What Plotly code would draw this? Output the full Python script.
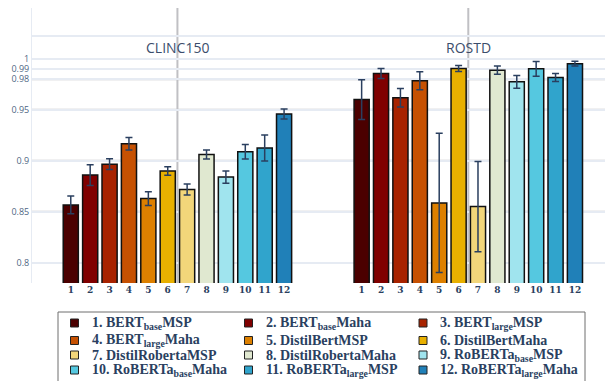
import plotly.graph_objects as go

# Model names (legend entries) and their bar colours
models = [
    "1. BERT<sub>base</sub>MSP", "2. BERT<sub>base</sub>Maha", "3. BERT<sub>large</sub>MSP",
    "4. BERT<sub>large</sub>Maha", "5. DistilBertMSP", "6. DistilBertMaha",
    "7. DistilRobertaMSP", "8. DistilRobertaMaha", "9. RoBERTa<sub>base</sub>MSP",
    "10. RoBERTa<sub>base</sub>Maha", "11. RoBERTa<sub>large</sub>MSP", "12. RoBERTa<sub>large</sub>Maha",
]
colors = [
    "#4b0000", "#800000", "#a82300", "#c65102", "#dd8000", "#e8b000",
    "#f2d67a", "#e0e8d0", "#a0e4ee", "#55c8e0", "#30a4cc", "#2080b8",
]
tick_labels = [str(i) for i in range(1, 13)]

# Scores per dataset (mean and std)
clinc_mean = [0.8567, 0.8860, 0.8967, 0.9167, 0.8629, 0.8900,
              0.8717, 0.9062, 0.8840, 0.9089, 0.9125, 0.9460]
clinc_std = [0.0088, 0.0102, 0.0053, 0.0061, 0.0068, 0.0041,
             0.0054, 0.0044, 0.0060, 0.0071, 0.0128, 0.0049]
rostd_mean = [0.9601, 0.9857, 0.9618, 0.9785, 0.8586, 0.9906,
              0.8550, 0.9890, 0.9775, 0.9903, 0.9818, 0.9953]
rostd_std = [0.0195, 0.0049, 0.0091, 0.0088, 0.0684, 0.0030,
             0.0443, 0.0041, 0.0063, 0.0072, 0.0040, 0.0023]

datasets = ["CLINC150", "ROSTD"]
group_offset = [0, 15]          # x offset of each dataset group
group_center = [6.5, 21.5]
y_ticks = [0.8, 0.85, 0.9, 0.95, 0.98, 0.99, 1.0, 1.0225]
y_tick_text = ["0.8", "0.85", "0.9", "0.95", "0.98", "0.99", "1", ""]
ref_lines_dark = [0.85, 0.9, 0.95, 0.98]
ref_lines_mid = [0.99]

W, H = 605, 381
M_L, M_R, M_T, M_B = 32, 0, 8, 98
PW, PH = W - M_L - M_R, H - M_T - M_B


def px(x):
    """pixel column -> paper x"""
    return (x - M_L) / PW


def py(y):
    """pixel row (from top) -> paper y"""
    return (H - M_B - y) / PH


fig = go.Figure()
for i, name in enumerate(models):
    pos = i + 1
    fig.add_trace(go.Bar(
        x=[pos + group_offset[0], pos + group_offset[1]],
        y=[clinc_mean[i], rostd_mean[i]],
        error_y=dict(type="data", array=[clinc_std[i], rostd_std[i]],
                     color="#2a3f5f", thickness=1.5, width=3.5),
        name=name,
        width=0.78,
        showlegend=False,
        marker=dict(color=colors[i], line=dict(color="#111111", width=1.5)),
    ))

shapes = []
for v in ref_lines_dark:
    shapes.append(dict(type="line", xref="paper", x0=0, x1=1, yref="y", y0=v, y1=v,
                       line=dict(color="#c2c3c8", width=2), layer="below"))
for v in ref_lines_mid:
    shapes.append(dict(type="line", xref="paper", x0=0, x1=1, yref="y", y0=v, y1=v,
                       line=dict(color="#d6d9df", width=2), layer="below"))
for c in group_center:
    shapes.append(dict(type="line", xref="x", x0=c, x1=c, yref="paper", y0=0, y1=1,
                       line=dict(color="#c0c0c4", width=2), layer="below"))

annotations = [
    dict(x=c, y=1.011, xref="x", yref="y", text=t, showarrow=False,
         font=dict(family="Open Sans", size=14, color="#3b4d6b"))
    for c, t in zip(group_center, datasets)
]

# Legend box: three columns, four rows
shapes.append(dict(type="rect", xref="paper", yref="paper",
                   x0=px(58), x1=px(585), y0=py(312), y1=py(400),
                   line=dict(color="#6e6e6e", width=1), fillcolor="white"))
col_x = [70.5, 244.5, 419]
row_y = [323, 340.5, 355, 370]
for i, name in enumerate(models):
    cx, cy = col_x[i % 3], row_y[i // 3]
    shapes.append(dict(type="rect", xref="paper", yref="paper",
                       x0=px(cx), x1=px(cx + 8), y0=py(cy - 4), y1=py(cy + 4),
                       line=dict(color="#222222", width=1), fillcolor=colors[i]))
    annotations.append(dict(
        x=px(cx + 19), y=py(cy), xref="paper", yref="paper", text=name,
        showarrow=False, xanchor="left", yanchor="middle",
        font=dict(family="Liberation Serif", size=14, color="#2a3f5f", weight="bold"),
    ))

tick_pos = [i + 1 + off for off in group_offset for i in range(12)]

fig.update_layout(
    width=W, height=H,
    margin=dict(l=M_L, r=M_R, t=M_T, b=M_B, autoexpand=False),
    paper_bgcolor="white", plot_bgcolor="white",
    showlegend=False,
    barmode="overlay",
    shapes=shapes,
    annotations=annotations,
    xaxis=dict(
        range=[-1.0, 28.55], tickmode="array", tickvals=tick_pos,
        ticktext=tick_labels * 2, showgrid=False, zeroline=False,
        showline=False,
        tickfont=dict(family="DejaVu Serif", size=9, color="#2a3f5f", weight="bold"),
    ),
    yaxis=dict(
        range=[0.78, 1.05], tickmode="array", tickvals=y_ticks, ticktext=y_tick_text,
        gridcolor="#e6ebf3", gridwidth=1.5, zeroline=False,
        showline=True, linecolor="#e6ebf3", linewidth=1,
        tickfont=dict(family="Open Sans", size=9, color="#506784"),
    ),
)

fig.write_html("out.html")
